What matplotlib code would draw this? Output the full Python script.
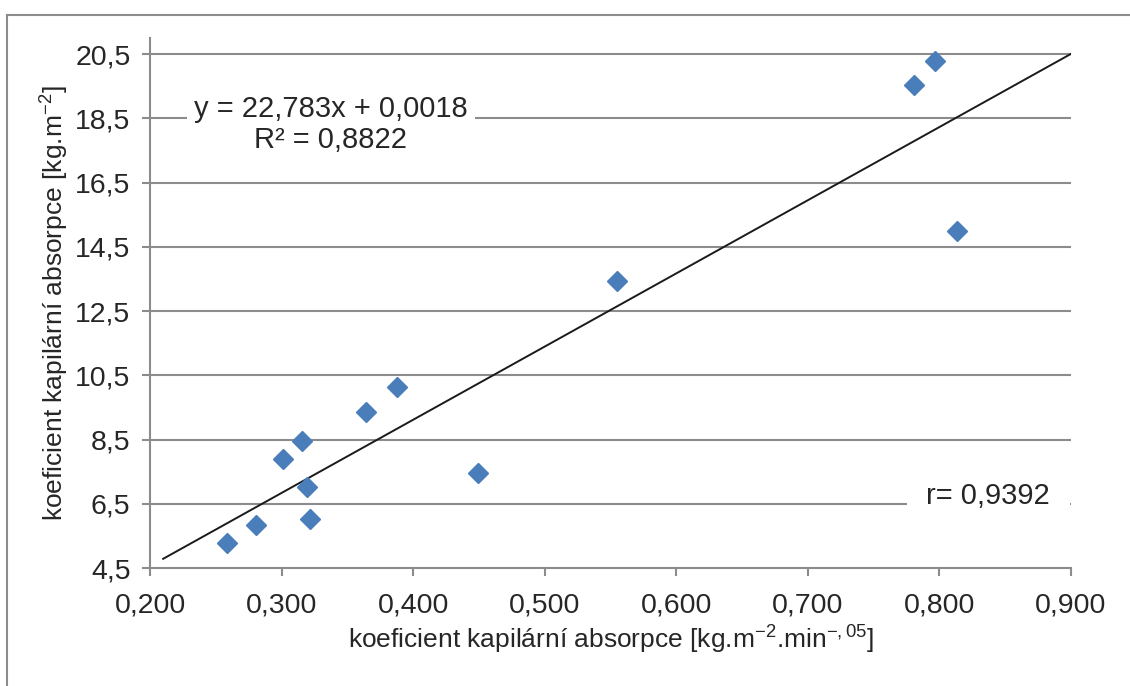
import matplotlib.pyplot as plt
from matplotlib.lines import Line2D
from matplotlib.ticker import FuncFormatter

plt.rcParams['font.family'] = ['Liberation Sans', 'DejaVu Sans']
plt.rcParams['mathtext.fontset'] = 'custom'
plt.rcParams['mathtext.rm'] = 'Liberation Sans'
plt.rcParams['mathtext.it'] = 'Liberation Sans'

# data
x_vals = [0.2585, 0.2806, 0.3010, 0.3155, 0.3193, 0.3216, 0.3640,
          0.3880, 0.4490, 0.5550, 0.7810, 0.7965, 0.8130]
y_vals = [5.28, 5.84, 7.90, 8.46, 7.03, 6.03, 9.37,
          10.15, 7.46, 13.45, 19.53, 20.28, 14.98]
slope = 22.783
intercept = 0.0018
trend_x = [0.21, 0.90]
x_ticks = [0.2, 0.3, 0.4, 0.5, 0.6, 0.7, 0.8, 0.9]
y_ticks = [4.5, 6.5, 8.5, 10.5, 12.5, 14.5, 16.5, 18.5, 20.5]

txt = '#262626'
grid_c = '#8c8c8c'

fig = plt.figure(figsize=(11.3, 6.86), dpi=100)
ax = fig.add_axes([150 / 1130, 1 - 568 / 686, (1071 - 150) / 1130, (568 - 38) / 686])

# outer chart border (only top/left visible)
fig.add_artist(Line2D([7 / 1130, 7 / 1130], [0, 1 - 15 / 686], color=grid_c, lw=1.5))
fig.add_artist(Line2D([7 / 1130, 1], [1 - 15 / 686, 1 - 15 / 686], color=grid_c, lw=1.5))

ax.set_xlim(0.2, 0.9)
ax.set_ylim(4.5, 21.0)
ax.set_xticks(x_ticks)
ax.set_yticks(y_ticks)
ax.xaxis.set_major_formatter(FuncFormatter(lambda v, p: f"{v:.3f}".replace('.', ',')))
ax.yaxis.set_major_formatter(FuncFormatter(lambda v, p: f"{v:.1f}".replace('.', ',')))

for s in ['top', 'right']:
    ax.spines[s].set_visible(False)
for s in ['left', 'bottom']:
    ax.spines[s].set_color(grid_c)
    ax.spines[s].set_linewidth(1.5)
ax.tick_params(axis='both', colors=grid_c, labelcolor=txt, labelsize=20.5,
               length=6, width=1.5, direction='out')
ax.tick_params(axis='x', pad=11.5)
ax.tick_params(axis='y', pad=8)

for yt in y_ticks[1:]:
    ax.axhline(yt, color=grid_c, lw=1.5, zorder=1)

ty = [slope * v + intercept for v in trend_x]
ax.plot(trend_x, ty, color='#1a1a1a', lw=1.4, zorder=3)
ax.plot(x_vals, y_vals, linestyle='none', marker='D', markersize=10.5,
        color='#4a7ebb', zorder=4)

ax.text(0.3375, 18.31, 'y = 22,783x + 0,0018\nR² = 0,8822', ha='center', va='center',
        fontsize=21, color=txt, linespacing=1.12, zorder=5,
        bbox=dict(facecolor='white', edgecolor='none', pad=5))
ax.text(0.837, 6.74, 'r= 0,9392', ha='center', va='center', fontsize=21, color=txt,
        zorder=5, bbox=dict(facecolor='white', edgecolor='none', pad=14))

ax.set_xlabel('koeficient kapilární absorpce [kg.m$^{-2}$.min$^{-,05}$]',
              fontsize=19, color=txt, labelpad=4)
ax.set_ylabel('koeficient kapilární absorpce [kg.m$^{-2}$]', fontsize=19, color=txt,
              labelpad=3)

fig.savefig('out.png', dpi=100, facecolor='white')
